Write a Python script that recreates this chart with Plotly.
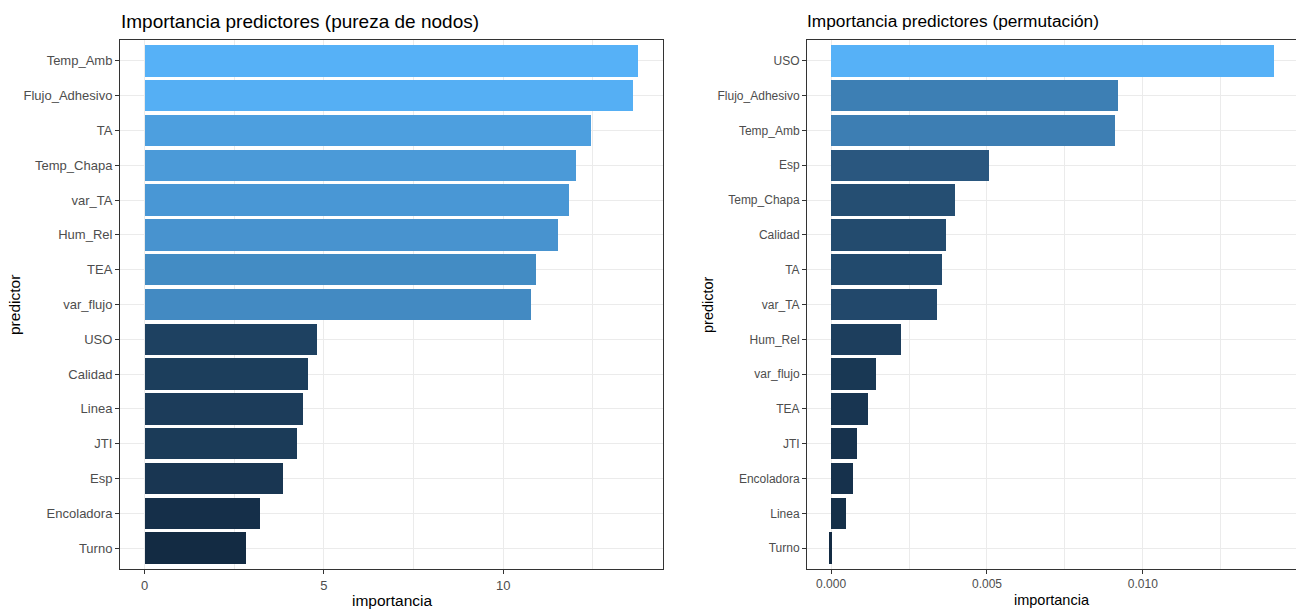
import numpy as np
import plotly.graph_objects as go

# Variable importance, node-purity measure (top to bottom)
pred_pureza = ["Temp_Amb", "Flujo_Adhesivo", "TA", "Temp_Chapa", "var_TA", "Hum_Rel",
               "TEA", "var_flujo", "USO", "Calidad", "Linea", "JTI", "Esp",
               "Encoladora", "Turno"]
imp_pureza = [13.77, 13.63, 12.46, 12.04, 11.84, 11.54, 10.92, 10.78, 4.80, 4.55,
              4.41, 4.25, 3.85, 3.21, 2.82]

# Variable importance, permutation measure (top to bottom)
pred_perm = ["USO", "Flujo_Adhesivo", "Temp_Amb", "Esp", "Temp_Chapa", "Calidad", "TA",
             "var_TA", "Hum_Rel", "var_flujo", "TEA", "JTI", "Encoladora", "Linea",
             "Turno"]
imp_perm = [0.01420, 0.00920, 0.00911, 0.00506, 0.00398, 0.00369, 0.00357, 0.00341,
            0.00223, 0.00143, 0.00118, 0.00083, 0.00070, 0.00048, -0.00006]

ticks_pureza = [0, 5, 10]
ticks_perm = [0.0, 0.005, 0.010]
tick_text_perm = ["0.000", "0.005", "0.010"]

LOW, HIGH = "#132B43", "#56B1F7"


# --- sequential gradient interpolated in CIELAB ---------------------------
def _hex_to_rgb(h):
    h = h.lstrip("#")
    return np.array([int(h[i:i + 2], 16) / 255 for i in (0, 2, 4)])


def _srgb_to_lin(c):
    return np.where(c <= 0.04045, c / 12.92, ((c + 0.055) / 1.055) ** 2.4)


def _lin_to_srgb(c):
    c = np.clip(c, 0, 1)
    return np.where(c <= 0.0031308, c * 12.92, 1.055 * c ** (1 / 2.4) - 0.055)


_M = np.array([[0.4124, 0.3576, 0.1805],
               [0.2126, 0.7152, 0.0722],
               [0.0193, 0.1192, 0.9505]])
_WHITE = np.array([0.95047, 1.0, 1.08883])


def _f(t):
    d = 6 / 29
    return np.where(t > d ** 3, np.cbrt(t), t / (3 * d * d) + 4 / 29)


def _finv(t):
    d = 6 / 29
    return np.where(t > d, t ** 3, 3 * d * d * (t - 4 / 29))


def _to_lab(h):
    xyz = _M @ _srgb_to_lin(_hex_to_rgb(h)) / _WHITE
    fx, fy, fz = _f(xyz)
    return np.array([116 * fy - 16, 500 * (fx - fy), 200 * (fy - fz)])


def _from_lab(lab):
    L, a, b = lab
    fy = (L + 16) / 116
    xyz = np.array([_finv(fy + a / 500), _finv(fy), _finv(fy - b / 200)]) * _WHITE
    rgb = _lin_to_srgb(np.linalg.solve(_M, xyz))
    r, g, b_ = (np.round(rgb * 255)).astype(int)
    return f"rgb({r},{g},{b_})"


lab_lo, lab_hi = _to_lab(LOW), _to_lab(HIGH)
stops = np.linspace(0, 1, 21)
gradient = [[float(s), _from_lab(lab_lo + s * (lab_hi - lab_lo))] for s in stops]

# --- figure --------------------------------------------------------------
W, H = 1296, 610
px = lambda v: v / W
py = lambda v: 1 - v / H

fig = go.Figure()

fig.add_trace(go.Bar(
    x=imp_pureza, y=pred_pureza, orientation="h", width=0.9,
    marker=dict(color=imp_pureza, colorscale=gradient,
                cmin=min(imp_pureza), cmax=max(imp_pureza), line=dict(width=0)),
    xaxis="x", yaxis="y", showlegend=False,
))
fig.add_trace(go.Bar(
    x=imp_perm, y=pred_perm, orientation="h", width=0.9,
    marker=dict(color=imp_perm, colorscale=gradient,
                cmin=min(imp_perm), cmax=max(imp_perm), line=dict(width=0)),
    xaxis="x2", yaxis="y2", showlegend=False,
))

GRID = "#EBEBEB"
AX = "#333333"
FAMILY = "Liberation Sans, Arial, sans-serif"
TICK_L = dict(family=FAMILY, size=13, color="#4D4D4D")
TICK_R = dict(family=FAMILY, size=12, color="#4D4D4D")


def x_axis(font):
    return dict(showgrid=True, gridcolor=GRID, gridwidth=1, zeroline=False,
                showline=True, linecolor=AX, linewidth=1, mirror=True,
                ticks="outside", ticklen=4, tickcolor=AX, tickfont=font)


def y_axis(font):
    return dict(type="category", showgrid=True, gridcolor=GRID, gridwidth=1,
                zeroline=False, showline=True, linecolor=AX, linewidth=1,
                ticks="outside", ticklen=4, tickcolor=AX, tickfont=font)


span1 = max(imp_pureza) - 0
span2 = max(imp_perm) - min(imp_perm)

fig.update_layout(
    width=W, height=H,
    margin=dict(l=0, r=0, t=0, b=0),
    paper_bgcolor="white", plot_bgcolor="white",
    bargap=0,
    xaxis=dict(**x_axis(TICK_L), domain=[px(120), px(663)],
               range=[-0.05 * span1, max(imp_pureza) + 0.05 * span1],
               tickvals=ticks_pureza,
               minor=dict(dtick=2.5, tick0=0, showgrid=True, gridcolor=GRID,
                          gridwidth=0.6, ticks=""),
               anchor="y"),
    yaxis=dict(**y_axis(TICK_L), mirror=True, domain=[py(569), py(40)],
               categoryarray=pred_pureza, categoryorder="array",
               range=[len(pred_pureza) - 0.4, -0.6], anchor="x"),
    xaxis2=dict(**x_axis(TICK_R), domain=[px(807), 1.0],
                range=[min(imp_perm) - 0.05 * span2, max(imp_perm) + 0.05 * span2],
                tickvals=ticks_perm, ticktext=tick_text_perm,
                minor=dict(dtick=0.0025, tick0=0, showgrid=True, gridcolor=GRID,
                           gridwidth=0.6, ticks=""),
                anchor="y2"),
    yaxis2=dict(**y_axis(TICK_R), mirror=False, domain=[py(569), py(40)],
                categoryarray=pred_perm, categoryorder="array",
                range=[len(pred_perm) - 0.4, -0.6], anchor="x2"),
)

TITLE_L = dict(family=FAMILY, size=19, color="black")
TITLE_R = dict(family=FAMILY, size=17.3, color="black")
AXTITLE_L = dict(family=FAMILY, size=15.5, color="black")
AXTITLE_R = dict(family=FAMILY, size=14.5, color="black")

annotations = [
    dict(text="Importancia predictores (pureza de nodos)", x=px(119), y=py(21),
         xanchor="left", yanchor="middle", font=TITLE_L),
    dict(text="Importancia predictores (permutación)", x=px(805), y=py(21),
         xanchor="left", yanchor="middle", font=TITLE_R),
    dict(text="importancia", x=px(392), y=py(600),
         xanchor="center", yanchor="middle", font=AXTITLE_L),
    dict(text="importancia", x=px(1052), y=py(600),
         xanchor="center", yanchor="middle", font=AXTITLE_R),
    dict(text="predictor", x=px(14), y=py(305), textangle=-90,
         xanchor="center", yanchor="middle", font=AXTITLE_L),
    dict(text="predictor", x=px(708), y=py(305), textangle=-90,
         xanchor="center", yanchor="middle", font=AXTITLE_R),
]
for a in annotations:
    a.update(xref="paper", yref="paper", showarrow=False)
fig.update_layout(annotations=annotations)

fig.write_html("out.html")
